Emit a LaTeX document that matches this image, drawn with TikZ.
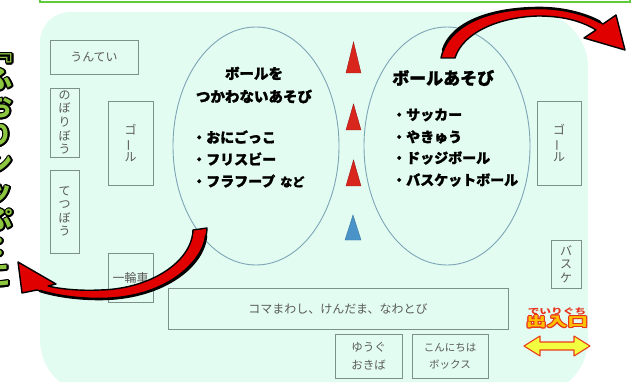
\documentclass[tikz,border=0pt]{standalone}
\usepackage{fontspec}
\newfontfamily\jp{Noto Sans CJK JP}
\newfontfamily\jph{Noto Sans CJK JP}[BoldFeatures={FakeBold=1.3}]
\usetikzlibrary{shapes.geometric}
\definecolor{bgc}{HTML}{E2FCF1}
\definecolor{boxline}{HTML}{7D918B}
\definecolor{tgray}{HTML}{5A5A5A}
\definecolor{ellline}{HTML}{7EA5B6}
\definecolor{tred}{HTML}{D9261C}
\definecolor{tredd}{HTML}{9E1A14}
\definecolor{tblue}{HTML}{4A93C9}
\definecolor{topgreen}{HTML}{5FCB3B}
\definecolor{lgreen}{HTML}{8DC63F}
\definecolor{arrred}{HTML}{E00000}
\definecolor{exityel}{HTML}{F2FF40}
\definecolor{exitorg}{HTML}{FFC000}
\definecolor{exitred}{HTML}{E8341C}
\newcommand\OutlineText[6]{%
  \foreach \ang in {0,30,...,330}{%
    \node[text=#2,font=#4,inner sep=0,align=center,shift={(\ang:#5)}] at #1 {#6};}%
  \node[text=#3,font=#4,inner sep=0,align=center] at #1 {#6};}
\tikzset{
  box/.style={draw=boxline,line width=0.9pt,inner sep=0,align=center,text=tgray,
    font=\jp\fontsize{12}{13.6}\selectfont},
  smallbox/.style={box,font=\jp\fontsize{10.5}{17}\selectfont},
  ell/.style={draw=ellline,line width=0.9pt,ellipse,inner sep=0},
  head/.style={font=\jph\bfseries\fontsize{14.5}{23}\selectfont,align=center,inner sep=0},
  item/.style={font=\jph\bfseries\fontsize{14}{16}\selectfont,anchor=west,inner sep=0},
  redarrow/.style={fill=arrred,draw=black,line width=1.4pt,line join=round},
}
\newcommand\vbar{\rotatebox[origin=c]{90}{ー}}
\begin{document}
\begin{tikzpicture}[x=1pt,y=-1pt]
\useasboundingbox (0,0) rectangle (637,382);
\begin{scope}
\clip (0,0) rectangle (637,382);
% background
\fill[bgc] (40,340) -- (40,42) .. controls (40,25.5) and (53.5,12) .. (70,12)
  -- (533,12) .. controls (563,12) and (588,37) .. (588,67)
  -- (588,340) .. controls (588,370) and (563,395) .. (533,395)
  -- (95,395) .. controls (65,395) and (40,370) .. (40,340) -- cycle;
% top green frame
\draw[topgreen,line width=2pt] (40,-6) -- (40,2) -- (630,2) -- (630,-6);
% left vertical title (cut off)
\OutlineText{(0,170)}{black}{lgreen}{\jp\bfseries\fontsize{26}{28}\selectfont}{1.5}{﹃\\ふ\\お\\り\\ン\\ッ\\ぷ\\：\\こ}
% boxes
\node[box,minimum width=88,minimum height=34] (untei) at (94,57) {うんてい};
\node[box,minimum width=29,minimum height=69] (nobori) at (64.5,122.5) {の\\ぼ\\り\\ぼ\\う};
\node[box,minimum width=29,minimum height=83] (tetsu) at (64.5,211.5) {て\\つ\\ぼ\\う};
\node[box,minimum width=45,minimum height=84] (goalL) at (130.5,143) {ゴ\\\vbar\\ル};
\node[box,minimum width=45,minimum height=49] (ichirin) at (130.5,277.5) {\raisebox{-4pt}{一輪車}};
\node[box,minimum width=340,minimum height=41] (koma) at (338,308.5) {コマまわし、けんだま、なわとび};
\node[box,minimum width=67,minimum height=44,font=\jp\fontsize{11.5}{17.5}\selectfont] (yugu) at (368.5,356) {ゆうぐ\\おきば};
\node[smallbox,minimum width=76,minimum height=44] (konnichi) at (450,356) {こんにちは\\ボックス};
\node[box,minimum width=30,minimum height=48] (basuke) at (566,264) {バ\\ス\\ケ};
\node[box,minimum width=44,minimum height=84] (goalR) at (559,143) {ゴ\\\vbar\\ル};
% ellipses
\node[ell,minimum width=166,minimum height=238] (leftE) at (256,146) {};
\node[ell,minimum width=166,minimum height=238] (rightE) at (447,146) {};
% triangles
\filldraw[fill=tred,draw=tredd,line width=0.4pt] (353.5,42) -- (361,73) -- (346,73) -- cycle;
\filldraw[fill=tred,draw=tredd,line width=0.4pt] (353.5,104) -- (361,130) -- (346,130) -- cycle;
\filldraw[fill=tred,draw=tredd,line width=0.4pt] (353.5,160) -- (361,186) -- (346,186) -- cycle;
\filldraw[fill=tblue,draw=tblue!80!black,line width=0.4pt] (353,215) -- (361,240) -- (345,240) -- cycle;
% left ellipse text
\node[head] (lh) at (254,85) {ボールを\\つかわないあそび};
\node[item] (l1) at (192,137) {・おにごっこ};
\node[item] (l2) at (192,159) {・フリスビー};
\node[item] (l3) at (192,181) {・フラフープ\hspace{5pt}{\fontsize{12}{14}\selectfont など}};
% right ellipse text
\node[head,font=\jph\bfseries\fontsize{17}{20}\selectfont,anchor=west] (rh) at (392,78) {ボールあそび};
\node[item] (r1) at (392,115) {・サッカー};
\node[item] (r2) at (392,137) {・やきゅう};
\node[item] (r3) at (392,158) {・ドッジボール};
\node[item] (r4) at (392,180) {・バスケットボール};
% exit
\node[text=exitred,font=\jp\bfseries\fontsize{9}{10}\selectfont,inner sep=0] (deiri) at (557,311) {\scalebox{1.3}[0.9]{でいりぐち}};
\OutlineText{(557,322)}{exitred}{exitorg}{\jp\bfseries\fontsize{13}{14}\selectfont}{1}{\scalebox{1.6}[1]{出入口}}
\filldraw[fill=exityel,draw=exitred!90!orange,line width=1.1pt,line join=round]
  (524,346) -- (540,336) -- (540,342) -- (574,342) -- (574,336) -- (590,346)
  -- (574,356) -- (574,350) -- (540,350) -- (540,356) -- cycle;
% red curved arrows
\filldraw[redarrow] (441,58) .. controls (448,25) and (490,8) .. (540,8)
  .. controls (565,8) and (588,15) .. (603,24) -- (616,15) -- (625,50) -- (584,38) -- (596,30)
  .. controls (580,20) and (560,16) .. (538,16)
  .. controls (500,17) and (463,32) .. (455,58) -- cycle;
\draw[black,line width=2.6pt,line cap=round] (443,50) .. controls (452,22) and (492,8) .. (540,8)
  .. controls (565,8) and (588,15) .. (600,22);
\filldraw[redarrow] (193,230) -- (207,228) .. controls (206,265) and (160,299) .. (100,299)
  .. controls (70,299) and (50,294) .. (37,290) -- (22,293) -- (18,262) -- (56,284) -- (48,286)
  .. controls (60,289) and (80,291) .. (100,290)
  .. controls (150,289) and (192,262) .. (193,230) -- cycle;
\draw[black,line width=2.6pt,line cap=round] (206,236) .. controls (203,268) and (160,299) .. (100,299)
  .. controls (70,299) and (50,294) .. (40,291);
\end{scope}
\end{tikzpicture}
\end{document}
